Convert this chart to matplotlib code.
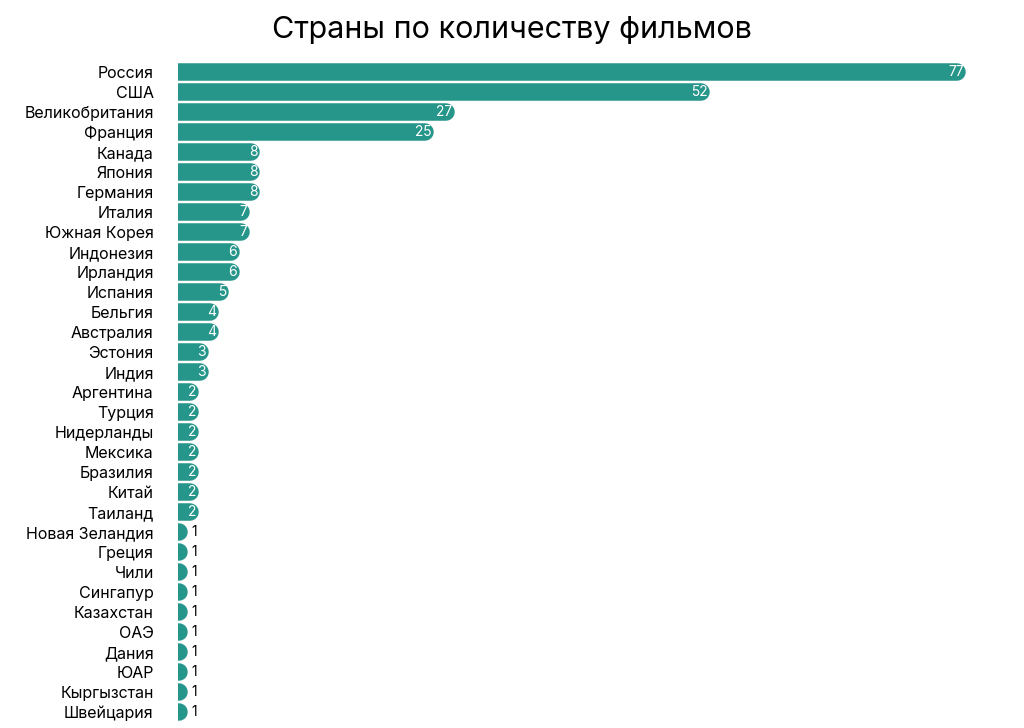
import matplotlib.pyplot as plt

countries = ["Россия", "США", "Великобритания", "Франция", "Канада", "Япония", "Германия",
             "Италия", "Южная Корея", "Индонезия", "Ирландия", "Испания", "Бельгия",
             "Австралия", "Эстония", "Индия", "Аргентина", "Турция", "Нидерланды", "Мексика",
             "Бразилия", "Китай", "Таиланд", "Новая Зеландия", "Греция", "Чили", "Сингапур",
             "Казахстан", "ОАЭ", "Дания", "ЮАР", "Кыргызстан", "Швейцария"]
counts = [77, 52, 27, 25, 8, 8, 8, 7, 7, 6, 6, 5, 4, 4, 3, 3, 2, 2, 2, 2, 2, 2, 2,
          1, 1, 1, 1, 1, 1, 1, 1, 1, 1]

plt.rcParams["font.family"] = "Inter"
color = "#26958a"

fig = plt.figure(figsize=(10.24, 7.28), dpi=100)
n = len(countries)
top_px, row_px = 62, 20.0
height_px = row_px * n
ax = fig.add_axes([178 / 1024, (728 - top_px - height_px) / 728, 822 / 1024, height_px / 728])
px_per_unit = (966 - 178) / 77
ax.set_xlim(0, 822 / px_per_unit)
ax.set_ylim(n - 0.5, -0.5)

bar_px = 17.5
r = bar_px / 2 / px_per_unit
ys = list(range(n))
ax.hlines(ys, [0] * n, [v - r for v in counts], color=color,
          linewidth=bar_px * 72 / 100, capstyle="round")

for y, v in zip(ys, counts):
    if v >= 2:
        ax.text(v - 0.25, y, str(v), color="white", ha="right", va="center", fontsize=10)
    else:
        ax.text(v + 0.35, y, str(v), color="black", ha="left", va="center", fontsize=10)

ax.set_yticks(ys)
ax.set_yticklabels(countries, fontsize=11.5)
ax.tick_params(left=False, bottom=False, labelbottom=False, pad=14)
for s in ax.spines.values():
    s.set_visible(False)

fig.text(0.5, 1 - 30 / 728, "Страны по количеству фильмов", ha="center", va="center", fontsize=22)
fig.savefig("out.png", dpi=100)
